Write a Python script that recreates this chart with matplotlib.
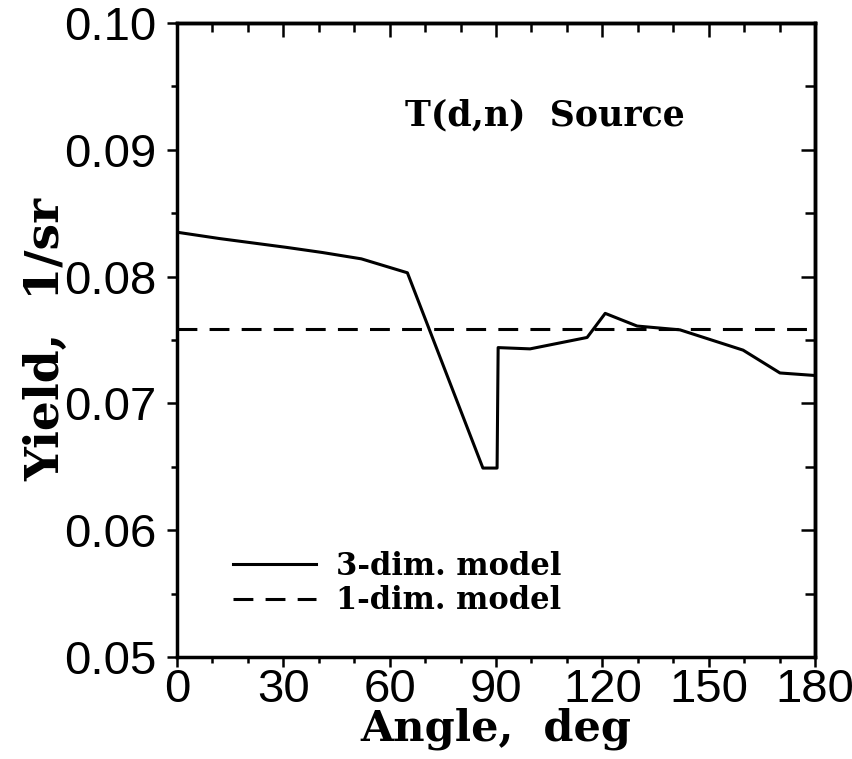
import matplotlib
matplotlib.use("Agg")
import matplotlib.pyplot as plt
from matplotlib.font_manager import FontProperties

# 3-dim. model
angle_3d = [0, 12, 31, 41, 52, 65, 86.3, 90.3, 90.6, 99.6, 115.7, 120.8, 129.8, 141.9, 159.7, 170.1, 180]
yield_3d = [0.0835, 0.0830, 0.0823, 0.0819, 0.0814, 0.0803, 0.0649, 0.0649, 0.0744, 0.0743, 0.0752,
            0.0771, 0.0761, 0.0758, 0.0742, 0.0724, 0.0722]

# 1-dim. model, flat
angle_1d = [0, 180]
yield_1d = [0.0759, 0.0759]

xticks = [0, 30, 60, 90, 120, 150, 180]
yticks = [0.05, 0.06, 0.07, 0.08, 0.09, 0.10]

serif = FontProperties(family="DejaVu Serif", weight="bold")

fig = plt.figure(figsize=(8.53, 7.59), dpi=100)
ax = fig.add_axes([0.2075, 0.1344, 0.7480, 0.8353])

lw = 2.2
ax.plot(angle_3d, yield_3d, color="black", lw=lw, label="3-dim. model")
ax.plot(angle_1d, yield_1d, color="black", lw=lw, ls=(0, (6.5, 4)), label="1-dim. model")

ax.set_xlim(0, 180)
ax.set_ylim(0.05, 0.10)
ax.set_xticks(xticks)
ax.set_xticks(range(0, 181, 10), minor=True)
ax.set_yticks(yticks)
ax.set_yticks([0.055, 0.065, 0.075, 0.085, 0.095], minor=True)
ax.set_yticklabels(["%.2f" % v for v in yticks])

for s in ax.spines.values():
    s.set_linewidth(2.5)

# old plotter: bottom/left ticks outward, top/right ticks inward
ax.tick_params(which="major", direction="out", length=7, width=1.8, labelsize=34, pad=1)
ax.tick_params(which="minor", direction="out", length=4.5, width=1.8)
ax.tick_params(axis="y", which="major", pad=8)
for lab in ax.get_xticklabels() + ax.get_yticklabels():
    lab.set_family("Liberation Sans")

top = ax.secondary_xaxis("top")
top.set_xticks(xticks)
top.set_xticks(range(0, 181, 10), minor=True)
top.tick_params(which="major", direction="in", length=10, width=1.8, labeltop=False)
top.tick_params(which="minor", direction="in", length=6.5, width=1.8)
top.set_xticklabels([])
right = ax.secondary_yaxis("right")
right.set_yticks(yticks)
right.set_yticks([0.055, 0.065, 0.075, 0.085, 0.095], minor=True)
right.tick_params(which="major", direction="in", length=10, width=1.8)
right.tick_params(which="minor", direction="in", length=7, width=1.8)
right.set_yticklabels([])
top.spines["top"].set_linewidth(2.5)
right.spines["right"].set_linewidth(2.5)

ax.set_xlabel("Angle,  deg", fontproperties=serif, fontsize=31, labelpad=-3)
ax.set_ylabel("Yield,  1/sr", fontproperties=serif, fontsize=34, labelpad=-4)

ax.text(103.8, 0.0927, "T(d,n)  Source", fontproperties=serif, fontsize=25,
        ha="center", va="center")

leg = ax.legend(loc="lower left", bbox_to_anchor=(0.088, 0.064), frameon=False,
                prop=FontProperties(family="DejaVu Serif", weight="bold", size=22),
                handlelength=2.7, handletextpad=0.65, labelspacing=0.12,
                borderpad=0, borderaxespad=0)

fig.savefig("out.png", dpi=100)
